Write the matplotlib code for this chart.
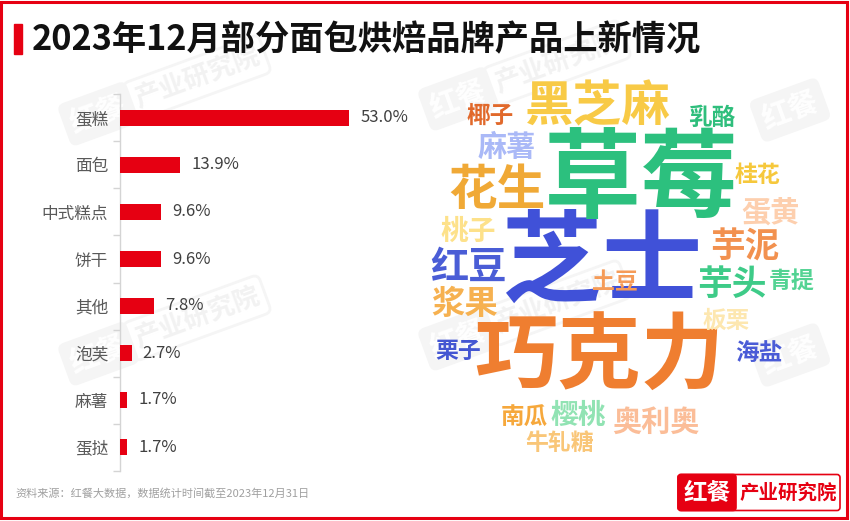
import numpy as np
import matplotlib
matplotlib.use("Agg")
import matplotlib.pyplot as plt
from matplotlib.patches import Rectangle, FancyBboxPatch

plt.rcParams['font.family'] = ['Noto Sans CJK SC', 'DejaVu Sans']

# ---------------- data ----------------
title = "2023年12月部分面包烘焙品牌产品上新情况"
source_note = "资料来源：红餐大数据，数据统计时间截至2023年12月31日"

categories = ["蛋糕", "面包", "中式糕点", "饼干", "其他", "泡芙", "麻薯", "蛋挞"]
shares = [53.0, 13.9, 9.6, 9.6, 7.8, 2.7, 1.7, 1.7]

words = ["芝士", "草莓", "巧克力", "黑芝麻", "花生", "红豆", "芋泥", "芋头",
         "浆果", "麻薯", "蛋黄", "奥利奥", "桃子", "樱桃", "乳酪", "板栗",
         "海盐", "南瓜", "椰子", "桂花", "青提", "栗子", "土豆", "牛轧糖"]
word_weights = [72, 70, 60, 35, 35, 27.5, 25, 25,
                24, 21, 21, 21, 20, 20, 17, 17,
                17, 17, 17, 16.5, 16.5, 16.5, 16.5, 16.5]
word_colors = ["#4051d8", "#2cc07e", "#ef7e30", "#f8ca46", "#f0a936", "#4a5dd6",
               "#f2914f", "#3ecb88", "#f6b150", "#aab9f7", "#fdcfae", "#fbbd98",
               "#fde18a", "#91e3b3", "#2fbe7c", "#fde7b0", "#4a5bd6", "#f6a83c",
               "#e1692b", "#f6c83c", "#53d393", "#4456d2", "#f59b58", "#f9c678"]

# ---------------- layout (pixels) ----------------
W, H, DPI = 850, 521, 100
word_pos = [(602, 257), (641, 174), (599, 352), (598, 103), (497, 187), (468, 264),
            (745, 244), (732, 282), (465, 302), (507, 145), (770, 210), (656, 420),
            (468, 230), (578, 414), (712, 116), (726, 319), (759, 351), (524, 416),
            (490, 115), (758, 174), (792, 279), (458, 350), (615, 281), (560, 442)]

RED = "#e60012"

fig = plt.figure(figsize=(W / DPI, H / DPI), dpi=DPI)
fig.patch.set_facecolor("white")

# background canvas in pixel units
bg = fig.add_axes([0, 0, 1, 1], zorder=0)
bg.set_xlim(0, W)
bg.set_ylim(H, 0)
bg.axis("off")

# faint watermarks
def watermark(cx, cy, angle=20, size=21):
    a = np.deg2rad(angle)
    dx, dy = np.cos(a), -np.sin(a)
    bg.text(cx - 55 * dx, cy - 55 * dy, "红餐", fontsize=size, fontweight="bold",
            color="white", rotation=angle, ha="center", va="center", zorder=1,
            bbox=dict(boxstyle="round,pad=0.25", fc="#f5f5f5", ec="none"))
    bg.text(cx + 50 * dx, cy + 50 * dy, "产业研究院", fontsize=size * 0.9,
            fontweight="bold", color="#f2f2f2", rotation=angle, ha="center",
            va="center", zorder=1,
            bbox=dict(boxstyle="round,pad=0.25", fc="none", ec="#f5f5f5", lw=2))

for cx, cy in [(150, 95), (510, 80), (150, 335), (510, 320)]:
    watermark(cx, cy)
# partial marks at the right edge
for cx, cy in [(790, 110), (790, 355)]:
    bg.text(cx, cy, "红餐", fontsize=21, fontweight="bold", color="white",
            rotation=20, ha="center", va="center", zorder=1,
            bbox=dict(boxstyle="round,pad=0.25", fc="#f5f5f5", ec="none"))

# outer frame
bg.add_patch(Rectangle((1.5, 1.5), 845.5, 516.5, fill=False, ec=RED, lw=2.2, zorder=5))

# title
bg.add_patch(Rectangle((14, 24), 8, 30, color=RED, zorder=5))
bg.text(32, 40, title, fontsize=24.7, fontweight="bold", color="#111111",
        ha="left", va="center", zorder=5)

# source note
bg.text(15, 493, source_note, fontsize=8, color="#a0a0a0", ha="left",
        va="center", zorder=5)

# brand mark
bg.add_patch(FancyBboxPatch((678, 474.5), 162, 36, boxstyle="round,pad=0,rounding_size=3",
                            fc="white", ec=RED, lw=1.2, zorder=5))
bg.add_patch(FancyBboxPatch((678, 474.5), 58, 36, boxstyle="round,pad=0,rounding_size=3",
                            fc=RED, ec=RED, lw=1.2, zorder=6))
bg.text(707, 493, "红餐", fontsize=17, fontweight="bold", color="white",
        ha="center", va="center", zorder=7)
bg.text(788, 493, "产业研究院", fontsize=14, fontweight="bold", color=RED,
        ha="center", va="center", zorder=7)

# word cloud; nudge down so the glyph ink sits centred on its point
for w, wt, c, (x, y) in zip(words, word_weights, word_colors, word_pos):
    em_px = wt / 0.72
    bg.text(x, y + 0.075 * em_px, w, fontsize=wt, fontweight="bold", color=c,
            ha="center", va="center", zorder=4)

# ---------------- bar chart ----------------
px_per_pct = 4.32
ax_left, ax_right = 120, 400
ax_top, ax_bottom = 94.5, 470.5
ax = fig.add_axes([ax_left / W, (H - ax_bottom) / H,
                   (ax_right - ax_left) / W, (ax_bottom - ax_top) / H], zorder=3)
ax.patch.set_alpha(0)

y = np.arange(len(categories))
ax.barh(y, shares, height=0.36, color=RED, zorder=3)
ax.set_xlim(0, (ax_right - ax_left) / px_per_pct)
ax.set_ylim(len(categories) - 0.5, -0.5)

for yi, v in zip(y, shares):
    ax.annotate(f"{v:.1f}%", (v, yi), xytext=(8, 0), textcoords="offset points",
                ha="left", va="center", fontsize=12, color="#404040")

ax.set_yticks(y)
ax.set_yticklabels(categories, fontsize=12, color="#595959")
ax.tick_params(axis="y", which="major", length=0, pad=8.5)
ax.set_yticks(np.arange(-0.5, len(categories), 1), minor=True)
ax.tick_params(axis="y", which="minor", length=5, width=1, color="#d4d4d4")
ax.set_xticks([])
for s in ["top", "right", "bottom"]:
    ax.spines[s].set_visible(False)
ax.spines["left"].set_color("#d4d4d4")
ax.spines["left"].set_linewidth(1)

fig.savefig("out.png", dpi=DPI)
